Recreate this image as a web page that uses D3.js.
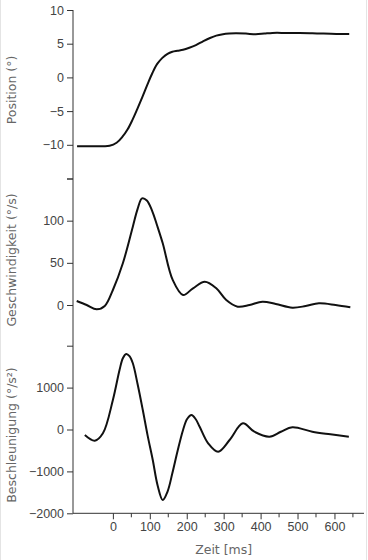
<!DOCTYPE html>
<html>
<head>
<meta charset="utf-8">
<script src="https://cdn.jsdelivr.net/npm/d3@7"></script>
<style>
    body { margin: 0; background: #fff; }
    svg { display: block; font-family: "DejaVu Sans", sans-serif; }
    .tick text { fill: #444; font-size: 12.5px; }
    .axis path, .axis line { stroke: #333; }
    .title { fill: #666; font-size: 12.5px; }
</style>
</head>
<body>
<svg id="chart" width="368" height="560"></svg>
<script>
"use strict";

// time in ms
var posTime = [-97, -60, -30, -9, 10, 26, 40, 53, 66, 80, 94, 107, 120, 134, 148, 161, 175, 190, 207, 225, 244, 263, 280, 298, 315, 333, 360, 387, 410, 432, 470, 505, 540, 567, 605, 640];
var posValue = [-10.2, -10.2, -10.2, -10.15, -9.7, -8.8, -7.7, -6.3, -4.7, -2.9, -1.0, 0.65, 2.0, 2.9, 3.5, 3.8, 3.95, 4.1, 4.4, 4.8, 5.35, 5.85, 6.2, 6.4, 6.5, 6.55, 6.5, 6.4, 6.5, 6.6, 6.6, 6.6, 6.55, 6.5, 6.45, 6.45];

var velTime = [-98, -71, -44, -22, 0, 27, 54, 67, 79, 92, 106, 120, 135, 162, 190, 217, 249, 280, 307, 338, 370, 405, 441, 486, 522, 558, 603, 643];
var velValue = [4.7, 0, -5.1, -1.2, 17.8, 49.5, 92.9, 114, 126.5, 124, 112, 94, 73.2, 29.7, 11.9, 19.8, 27.6, 19.8, 5.9, -2.0, 0, 3.9, 1.2, -3.2, -1.2, 2.0, 0, -2.7];

var accTime = [-76, -49, -27, 0, 18, 27, 36, 45, 54, 67, 81, 94, 108, 121, 135, 148, 161, 175, 190, 201, 213, 224, 235, 258, 285, 316, 352, 383, 424, 455, 486, 540, 589, 639];
var accValue = [-131, -267, -91, 704, 1420, 1700, 1802, 1750, 1580, 1080, 465, -140, -728, -1330, -1683, -1480, -1045, -520, -12, 250, 346, 250, 67, -329, -530, -251, 148, -53, -172, -53, 53, -53, -115, -172];

var timeTicks = [0, 100, 200, 300, 400, 500, 600];
var timeMinorTicks = [50, 150, 250, 350, 450, 550, 650];
var posTicks = [-15, -10, -5, 0, 5, 10];
var velTicks = [0, 50, 100, 150];
var accTicks = [-2000, -1000, 0, 1000, 2000];

var svg = d3.select("#chart");
var axisX = 73;

var x = d3.scaleLinear().domain([-108, 680]).range([axisX, 364]);

var panels = [
    { title: "Position (°)", time: posTime, values: posValue, ticks: posTicks, hide: -15,
      y: d3.scaleLinear().domain([-15, 10]).range([178.5, 10]), mid: 90 },
    { title: "Geschwindigkeit (°/s)", time: velTime, values: velValue, ticks: velTicks, hide: 150,
      y: d3.scaleLinear().domain([0, 150]).range([305, 178.5]), mid: 260 },
    { title: "Beschleunigung (°/s²)", time: accTime, values: accValue, ticks: accTicks, hide: 2000,
      y: d3.scaleLinear().domain([-2000, 2000]).range([513.3, 345.7]), mid: 435 }
];

// one continuous vertical line for all three panels
svg.append("line")
    .attr("x1", axisX).attr("x2", axisX)
    .attr("y1", 10).attr("y2", 513.3)
    .attr("stroke", "#333");

for (var i = 0; i < panels.length; i++) {
    var p = panels[i];
    var hide = p.hide;
    var yAxis = d3.axisLeft(p.y).tickValues(p.ticks).tickSize(6).tickPadding(3)
        .tickFormat(function (d) { return d === hide ? "" : d3.format("")(d).replace("-", "\u2212"); });
    var g = svg.append("g")
        .attr("class", "axis")
        .attr("transform", "translate(" + axisX + ",0)")
        .call(yAxis);
    g.select(".domain").remove();

    svg.append("text")
        .attr("class", "title")
        .attr("text-anchor", "middle")
        .attr("transform", "translate(16," + p.mid + ") rotate(-90)")
        .text(p.title);

    var data = d3.zip(p.time, p.values);
    var line = d3.line()
        .x(function (d) { return x(d[0]); })
        .y((function (yy) { return function (d) { return yy(d[1]); }; })(p.y))
        .curve(d3.curveCatmullRom.alpha(0.5));
    svg.append("path")
        .datum(data)
        .attr("d", line)
        .attr("fill", "none")
        .attr("stroke", "#111")
        .attr("stroke-width", 2);
}

var xAxis = d3.axisBottom(x).tickValues(timeTicks).tickSize(6).tickPadding(3)
    .tickFormat(d3.format(""));
var gX = svg.append("g")
    .attr("class", "axis")
    .attr("transform", "translate(0,513.3)")
    .call(xAxis);
gX.select(".domain").attr("d", "M" + axisX + ",0H364");

gX.selectAll(".minor")
    .data(timeMinorTicks)
    .enter().append("line")
    .attr("class", "minor")
    .attr("x1", function (d) { return x(d); })
    .attr("x2", function (d) { return x(d); })
    .attr("y1", 0).attr("y2", 4)
    .attr("stroke", "#333");

svg.append("text")
    .attr("class", "title")
    .attr("text-anchor", "middle")
    .attr("x", x(300)).attr("y", 554)
    .text("Zeit [ms]");

// faint frame edges
svg.append("line").attr("x1", 0.5).attr("x2", 0.5).attr("y1", 0).attr("y2", 560).attr("stroke", "#e4e4e4");
svg.append("line").attr("x1", 366.5).attr("x2", 366.5).attr("y1", 0).attr("y2", 560).attr("stroke", "#e4e4e4");
</script>
</body>
</html>
